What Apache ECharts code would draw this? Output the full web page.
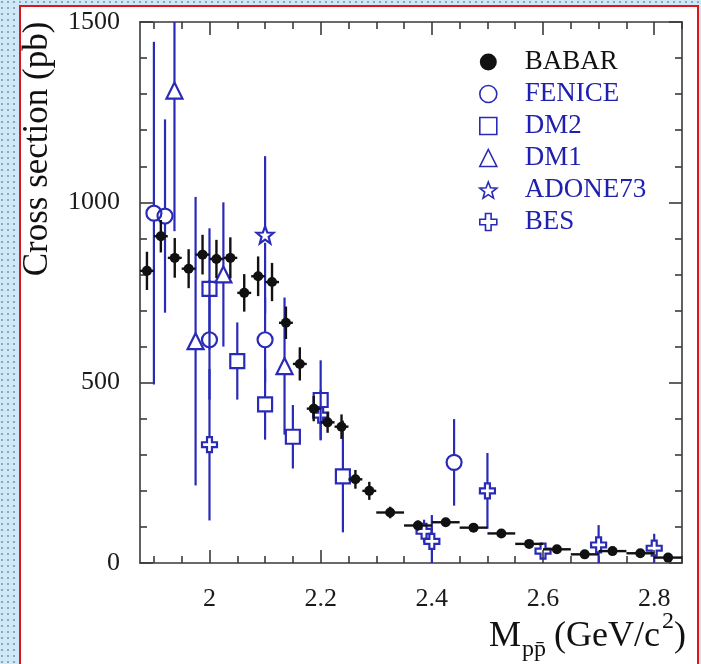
<!DOCTYPE html>
<html>
<head>
<meta charset="utf-8">
<script src="https://cdn.jsdelivr.net/npm/echarts@6/dist/echarts.min.js"></script>
<style>
  html, body {
    margin: 0; padding: 0; width: 701px; height: 664px; overflow: hidden;
    background-color: #cfe8f8;
    background-image: radial-gradient(circle, #8ea6ba 0.9px, rgba(0,0,0,0) 1.4px);
    background-size: 6px 6px;
    background-position: -1px -1px;
  }
  #frame {
    position: absolute; left: 19px; top: 5px; width: 676px; height: 700px;
    background: #fff; border: 2px solid #e0141e;
  }
  #chart { position: absolute; left: 0; top: 0; width: 701px; height: 664px; }
</style>
</head>
<body>
<div id="frame"></div>
<div id="chart"></div>
<script>
// ---- e+e- -> p pbar cross section vs. invariant mass ----

// BABAR (ISR): bin centres (GeV/c^2), cross section (pb), stat. error, half bin width
const BABAR_M    = [1.8875, 1.9125, 1.9375, 1.9625, 1.9875, 2.0125, 2.0375, 2.0625, 2.0875, 2.1125,
                    2.1375, 2.1625, 2.1875, 2.2125, 2.2375, 2.2625, 2.2875,
                    2.325, 2.375, 2.425, 2.475, 2.525, 2.575, 2.625, 2.675, 2.725, 2.775, 2.825];
const BABAR_XS   = [810, 906, 846, 816, 855, 843, 846, 749, 795, 779,
                    666, 552, 428, 390, 378, 232, 200,
                    140, 104, 113, 98, 82, 53, 38, 24, 33, 27, 15];
const BABAR_ERR  = [53, 45, 55, 54, 55, 53, 57, 52, 55, 53,
                    45, 46, 35, 29, 34, 26, 25,
                    16, 14, 12, 10, 10, 8, 7, 6, 6, 5, 4];
const BABAR_HALF = [0.0125, 0.0125, 0.0125, 0.0125, 0.0125, 0.0125, 0.0125, 0.0125, 0.0125, 0.0125,
                    0.0125, 0.0125, 0.0125, 0.0125, 0.0125, 0.0125, 0.0125,
                    0.025, 0.025, 0.025, 0.025, 0.025, 0.025, 0.025, 0.025, 0.025, 0.025, 0.025];

// FENICE
const FENICE_M   = [1.90, 1.92, 2.00, 2.10, 2.44];
const FENICE_XS  = [970, 962, 619, 619, 279];
const FENICE_ERR = [475, 268, 166, 118, 120];

// DM2
const DM2_M      = [2.00, 2.05, 2.10, 2.15, 2.20, 2.24];
const DM2_XS     = [760, 560, 440, 350, 452, 240];
const DM2_ERR    = [168, 107, 98, 88, 110, 155];

// DM1
const DM1_M      = [1.937, 1.975, 2.025, 2.135];
const DM1_XS     = [1310, 615, 800, 546];
const DM1_ERR    = [390, 400, 200, 190];

// ADONE73
const ADONE_M    = [2.10];
const ADONE_XS   = [910];
const ADONE_ERR  = [218];

// BES
const BES_M      = [2.00, 2.20, 2.386, 2.40, 2.50, 2.60, 2.70, 2.80];
const BES_XS     = [328, 410, 88, 60, 200, 33, 50, 41];
const BES_ERR    = [210, 70, 32, 73, 105, 15, 55, 40];

// axis ticks and labels
const X_MAJOR    = [2.0, 2.2, 2.4, 2.6, 2.8];
const X_MINOR    = [1.9, 1.95, 2.05, 2.1, 2.15, 2.25, 2.3, 2.35, 2.45, 2.5, 2.55, 2.65, 2.7, 2.75, 2.85];
const Y_LABELS   = [0, 500, 1000, 1500];

const LEGEND_NAMES = ['BABAR', 'FENICE', 'DM2', 'DM1', 'ADONE73', 'BES'];

// ---- styling ----
const SERIF = '"Liberation Serif", "DejaVu Serif", serif';
const BLUE = '#2a2ab8';
const BLUE_TEXT = '#2020b0';
const INK = '#111';
const AXIS = '#3a3a3a';
const NONE = 'rgba(0,0,0,0)';

function starSymbol() {
  let d = '';
  for (let i = 0; i < 10; i++) {
    const r = i % 2 ? 0.42 : 1;
    const a = -Math.PI / 2 + i * Math.PI / 5;
    d += (i ? 'L' : 'M') + (r * Math.cos(a)).toFixed(3) + ' ' + (r * Math.sin(a)).toFixed(3);
  }
  return 'path://' + d + 'Z';
}
const STAR = starSymbol();
const OPEN_CROSS = 'path://M-0.33 -1L0.33 -1L0.33 -0.33L1 -0.33L1 0.33L0.33 0.33L0.33 1L-0.33 1L-0.33 0.33L-1 0.33L-1 -0.33L-0.33 -0.33Z';

// vertical error bars (with a gap around open markers) and optional horizontal bin bars
function errorSeries(name, xs, ys, errs, halves, color, width, gap, z) {
  return {
    type: 'custom', name: name, z: z, clip: true, silent: true,
    xAxisIndex: 0, yAxisIndex: 0,
    encode: { x: 0, y: 1 },
    data: xs.map((x, i) => [x, ys[i], errs[i], halves ? halves[i] : 0]),
    renderItem: function (params, api) {
      const x = api.value(0), y = api.value(1), e = api.value(2), hw = api.value(3);
      const c = api.coord([x, y]);
      const t = api.coord([x, y + e]);
      const b = api.coord([x, y - e]);
      const style = { stroke: color, lineWidth: width, fill: null };
      const children = [];
      if (t[1] < c[1] - gap) children.push({ type: 'line', shape: { x1: c[0], y1: t[1], x2: c[0], y2: c[1] - gap }, style: style });
      if (b[1] > c[1] + gap) children.push({ type: 'line', shape: { x1: c[0], y1: c[1] + gap, x2: c[0], y2: b[1] }, style: style });
      if (hw > 0) {
        const l = api.coord([x - hw, y]), r = api.coord([x + hw, y]);
        children.push({ type: 'line', shape: { x1: l[0], y1: c[1], x2: r[0], y2: c[1] }, style: style });
      }
      return { type: 'group', children: children };
    }
  };
}

function markerSeries(name, xs, ys, symbol, size, fill, stroke, bw, z) {
  return {
    type: 'scatter', name: name, z: z, silent: true,
    xAxisIndex: 0, yAxisIndex: 0,
    data: xs.map((x, i) => [x, ys[i]]),
    symbol: symbol, symbolSize: size,
    itemStyle: { color: fill, borderColor: stroke, borderWidth: bw, opacity: 1 },
    emphasis: { disabled: true }
  };
}

function xAxisDef(position, ticks, len, withLine, withLabels) {
  return {
    type: 'value', gridIndex: 0, position: position, min: 1.875, max: 2.85,
    axisLine: { show: withLine, onZero: false, lineStyle: { color: AXIS, width: 1.6 } },
    axisTick: { show: true, inside: true, length: len, customValues: ticks, lineStyle: { color: AXIS, width: 1.6 } },
    axisLabel: withLabels ? {
      show: true, customValues: X_MAJOR, margin: 23,
      fontFamily: SERIF, fontSize: 26, color: '#1a1a1a',
      formatter: v => String(+v.toFixed(1))
    } : { show: false },
    splitLine: { show: false }
  };
}

function yAxisDef(position, withLabels) {
  return {
    type: 'value', gridIndex: 0, position: position, min: 0, max: 1500, interval: 500,
    axisLine: { show: true, onZero: false, lineStyle: { color: AXIS, width: 1.6 } },
    axisTick: { show: true, inside: true, length: 13, lineStyle: { color: AXIS, width: 1.6 } },
    minorTick: { show: true, splitNumber: 5, length: 7, lineStyle: { color: AXIS, width: 1.6 } },
    axisLabel: withLabels ? {
      show: true, customValues: Y_LABELS, margin: 20,
      fontFamily: SERIF, fontSize: 26, color: '#1a1a1a',
      formatter: v => String(Math.round(v))
    } : { show: false },
    splitLine: { show: false },
    minorSplitLine: { show: false }
  };
}

const legendStyles = {
  BABAR:   { icon: 'circle',   itemStyle: { color: INK, borderWidth: 0 }, text: INK },
  FENICE:  { icon: 'circle',   itemStyle: { color: NONE, borderColor: BLUE, borderWidth: 1.6 }, text: BLUE_TEXT },
  DM2:     { icon: 'rect',     itemStyle: { color: NONE, borderColor: BLUE, borderWidth: 1.6 }, text: BLUE_TEXT },
  DM1:     { icon: 'triangle', itemStyle: { color: NONE, borderColor: BLUE, borderWidth: 1.6 }, text: BLUE_TEXT },
  ADONE73: { icon: STAR,       itemStyle: { color: NONE, borderColor: BLUE, borderWidth: 1.6 }, text: BLUE_TEXT },
  BES:     { icon: OPEN_CROSS, itemStyle: { color: NONE, borderColor: BLUE, borderWidth: 1.6 }, text: BLUE_TEXT }
};

const chart = echarts.init(document.getElementById('chart'), null, { renderer: 'canvas' });

chart.setOption({
  animation: false,
  backgroundColor: 'transparent',
  grid: { left: 140, right: 19, top: 22, bottom: 101, containLabel: false },
  xAxis: [
    xAxisDef('bottom', X_MAJOR, 13, true, true),
    xAxisDef('bottom', X_MINOR, 7, false, false),
    xAxisDef('top', X_MAJOR, 13, true, false),
    xAxisDef('top', X_MINOR, 7, false, false)
  ],
  yAxis: [
    yAxisDef('left', true),
    yAxisDef('right', false)
  ],
  legend: {
    orient: 'vertical', left: 474, top: 41,
    itemWidth: 17, itemHeight: 17, itemGap: 0,
    selectedMode: false,
    textStyle: { fontFamily: SERIF, fontSize: 27, lineHeight: 32, padding: [0, 0, 0, 23] },
    data: LEGEND_NAMES.map(n => ({
      name: n,
      icon: legendStyles[n].icon,
      itemStyle: legendStyles[n].itemStyle,
      textStyle: { color: legendStyles[n].text }
    }))
  },
  series: [
    errorSeries('DM1 errors', DM1_M, DM1_XS, DM1_ERR, null, BLUE, 2.2, 8, 2),
    errorSeries('FENICE errors', FENICE_M, FENICE_XS, FENICE_ERR, null, BLUE, 2.2, 7.5, 2),
    errorSeries('DM2 errors', DM2_M, DM2_XS, DM2_ERR, null, BLUE, 2.2, 7, 2),
    errorSeries('ADONE73 errors', ADONE_M, ADONE_XS, ADONE_ERR, null, BLUE, 2.2, 8, 2),
    errorSeries('BES errors', BES_M, BES_XS, BES_ERR, null, BLUE, 2.2, 7.5, 2),
    markerSeries('DM1', DM1_M, DM1_XS, 'triangle', 16, NONE, BLUE, 2.2, 3),
    markerSeries('FENICE', FENICE_M, FENICE_XS, 'circle', 15, NONE, BLUE, 2.2, 3),
    markerSeries('DM2', DM2_M, DM2_XS, 'rect', 14, NONE, BLUE, 2.2, 3),
    markerSeries('ADONE73', ADONE_M, ADONE_XS, STAR, 17, NONE, BLUE, 2.2, 3),
    markerSeries('BES', BES_M, BES_XS, OPEN_CROSS, 15, NONE, BLUE, 2.2, 3),
    errorSeries('BABAR errors', BABAR_M, BABAR_XS, BABAR_ERR, BABAR_HALF, INK, 2.4, 0, 4),
    markerSeries('BABAR', BABAR_M, BABAR_XS, 'circle', 10, INK, INK, 0, 5)
  ],
  graphic: [
    {
      type: 'text', x: 38, y: 149, rotation: Math.PI / 2, silent: true,
      style: { text: 'Cross section (pb)', font: '35px ' + SERIF, fill: INK, align: 'center', verticalAlign: 'middle' }
    },
    {
      type: 'group', silent: true,
      children: [
        { type: 'text', x: 489, y: 637, style: { text: 'M', font: '36px ' + SERIF, fill: INK, align: 'left', verticalAlign: 'middle' } },
        { type: 'text', x: 522, y: 650, style: { text: 'pp\u0304', font: '24px ' + SERIF, fill: INK, align: 'left', verticalAlign: 'middle' } },
        { type: 'text', x: 554, y: 637, style: { text: '(GeV/c', font: '36px ' + SERIF, fill: INK, align: 'left', verticalAlign: 'middle' } },
        { type: 'text', x: 662, y: 622, style: { text: '2', font: '24px ' + SERIF, fill: INK, align: 'left', verticalAlign: 'middle' } },
        { type: 'text', x: 674, y: 637, style: { text: ')', font: '36px ' + SERIF, fill: INK, align: 'left', verticalAlign: 'middle' } }
      ]
    }
  ]
});
</script>
</body>
</html>
